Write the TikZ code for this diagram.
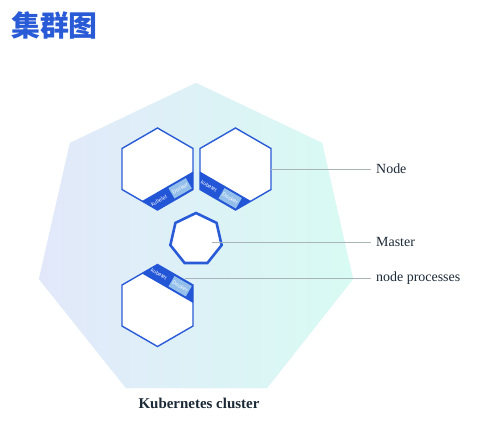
\documentclass[tikz,border=0pt]{standalone}
\usepackage{fontspec}
\setmainfont{Liberation Serif}
\setsansfont{Liberation Sans}
\newfontfamily\cjk{Noto Sans CJK SC}
\usetikzlibrary{shapes.geometric}
\definecolor{kblue}{HTML}{2A5BD7}
\definecolor{kband}{HTML}{2356D6}
\definecolor{kdock}{HTML}{93BFEA}
\definecolor{kline}{HTML}{A9B4B8}
\definecolor{ktext}{HTML}{1C2A38}
\definecolor{kleft}{RGB}{226,232,250}
\definecolor{kmid}{RGB}{220,240,248}
\definecolor{kright}{RGB}{216,251,243}
\tikzset{t/.style={font=\sffamily\fontsize{5.4}{6}\selectfont,text=white,inner sep=0pt}}
\tikzset{hex/.style={regular polygon,regular polygon sides=6,shape border rotate=30,minimum size=82bp,inner sep=0pt,outer sep=0pt,draw=kblue,line width=1.4bp,fill=white}}
\tikzset{lead/.style={draw=kline,line width=0.9bp}}
\tikzset{lbl/.style={anchor=west,inner sep=5bp,text=ktext,font=\fontsize{14}{16}\selectfont}}
\begin{document}
\begin{tikzpicture}[x=1bp,y=1bp]
  \useasboundingbox[fill=white] (0,0) rectangle (499,427);
  \node[anchor=west,inner sep=0pt,text=kblue,font=\cjk\bfseries\fontsize{29}{31}\selectfont] (title) at (11,402) {集群图};
  % cluster
  \fill[kmid] (196,344) -- (322,284) -- (353,148) -- (267,39) -- (126,39) -- (39,148) -- (70,284) -- cycle;
  \shade[left color=kleft,middle color=kmid,right color=kright]
    (196,344) -- (322,284) -- (353,148) -- (267,39) -- (126,39) -- (39,148) -- (70,284) -- cycle;
  \node[font=\bfseries\fontsize{15}{18}\selectfont,text=ktext] (cluster) at (199,24) {Kubernetes cluster};
  % nodes and master
  \node[hex] (node1) at (157.5,258) {};
  \node[hex] (node2) at (235.5,258) {};
  \node[hex] (node3) at (157.5,121.5) {};
  \node[regular polygon,regular polygon sides=7,minimum size=52.6bp,inner sep=0pt,draw=kblue,line width=2.6bp,fill=white] (master) at (196,187.7) {};
  % kubelet and docker bands
  \foreach \n/\r/\b in {node1/30/-28,node2/-30/-28,node3/-30/28}{
    \begin{scope}[shift={(\n.center)},rotate=\r]
      \clip (0:41) -- (60:41) -- (120:41) -- (180:41) -- (240:41) -- (300:41) -- cycle;
      \fill[kband] (-50,\b-8) rectangle (50,\b+8);
      \fill[kdock] (0,\b-6) rectangle (20,\b+6);
      \node[t,transform shape] at (-14.5,\b) {kubelet};
      \node[t,transform shape] at (10,\b) {Docker};
    \end{scope}}
  % labels
  \node[lbl] (lnode) at (371,258) {Node};
  \node[lbl] (lmaster) at (371,185) {Master};
  \node[lbl] (lproc) at (371,148.5) {node processes};
  \coordinate (mtip) at (212,185);
  \coordinate (ptip) at (185,148.5);
  \draw[lead] (node2.east) -- (lnode.west);
  \draw[lead] (mtip) -- (lmaster.west);
  \draw[lead] (ptip) -- (lproc.west);
\end{tikzpicture}
\end{document}
